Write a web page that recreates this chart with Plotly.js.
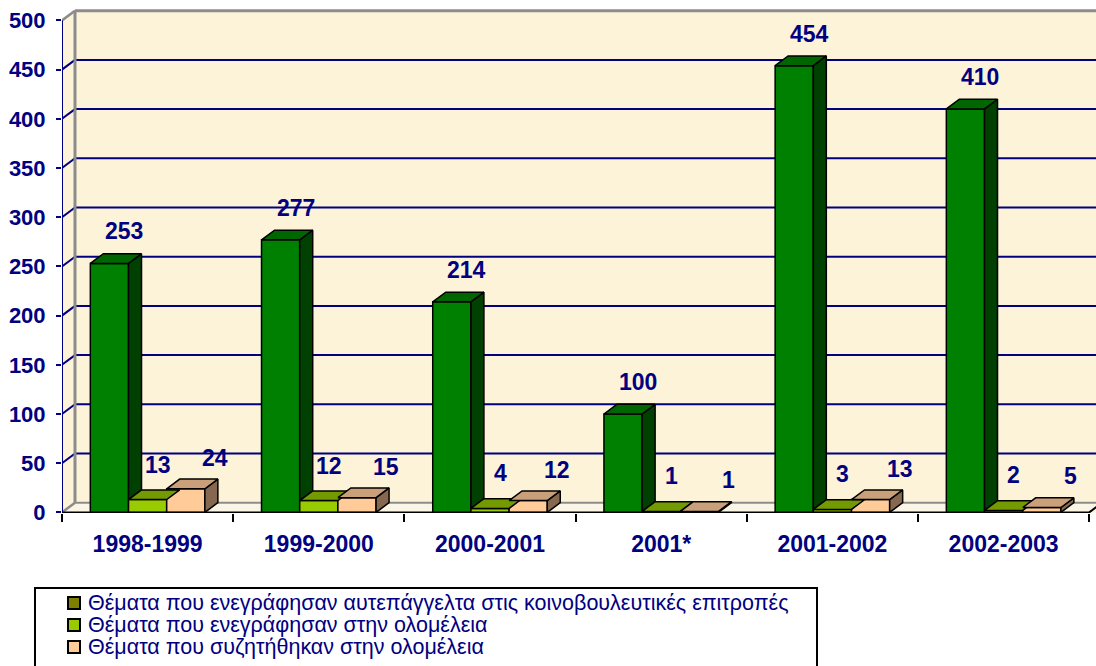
<!DOCTYPE html>
<html>
<head>
<meta charset="utf-8">
<script src="https://cdn.plot.ly/plotly-3.0.1.min.js"></script>
<style>
  html, body { margin: 0; padding: 0; background: #ffffff; }
  #chart { width: 1096px; height: 666px; }
</style>
</head>
<body>
<div id="chart"></div>
<script>
// ---- data ----
const categories = ['1998-1999', '1999-2000', '2000-2001', '2001*', '2001-2002', '2002-2003'];
const committeeTopics = [253, 277, 214, 100, 454, 410];
const plenaryRegistered = [13, 12, 4, 1, 3, 2];
const plenaryDiscussed = [24, 15, 12, 1, 13, 5];
const seriesNames = [
  'Θέματα που ενεγράφησαν αυτεπάγγελτα στις κοινοβουλευτικές επιτροπές',
  'Θέματα που ενεγράφησαν στην ολομέλεια',
  'Θέματα που συζητήθηκαν στην ολομέλεια'
];
const yTicks = [0, 50, 100, 150, 200, 250, 300, 350, 400, 450, 500];

// ---- styling / geometry ----
const NAVY = '#000080';
const FONT = 'Liberation Sans, Arial, sans-serif';
const W = 0.223;      // bar width in category units
const DX = 0.0759;    // depth offset (x, category units)
const DY = 9.86;      // depth offset (y, value units)
const X0 = -0.5, XEND = 5.5397;
const M = { l: 62, r: 0, t: 8, b: 153 };
const PW = 1096 - M.l - M.r, PH = 666 - M.t - M.b;
const px2x = p => (p - M.l) / PW;          // pixel -> paper x
const py2y = p => (666 - M.b - p) / PH;    // pixel -> paper y

const series = [
  { vals: committeeTopics,   front: '#008000', top: '#006600', side: '#004000', legend: '#808000', lx: 15, ly: 32 },
  { vals: plenaryRegistered, front: '#99CC00', top: '#739A00', side: '#4D6600', legend: '#99CC00', lx: 10, ly: 35 },
  { vals: plenaryDiscussed,  front: '#FFCC99', top: '#C9A07A', side: '#85684F', legend: '#FFCC99', lx: 29, ly: 31 }
];
const idx = categories.map((c, i) => i);

const traces = [];
const annotations = [];
const shapes = [];

series.forEach((s, k) => {
  const off = -1.5 * W + k * W;
  // front faces
  traces.push({
    type: 'bar', x: idx, y: s.vals, width: W, offset: off, name: seriesNames[k],
    marker: { color: s.front, line: { color: '#000', width: 1.5 } },
    showlegend: false, hoverinfo: 'skip'
  });
  // top & side faces
  const tx = [], ty = [], sx = [], sy = [];
  s.vals.forEach((v, i) => {
    const xl = i + off, xr = xl + W;
    tx.push(xl, xr, xr + DX, xl + DX, xl, null);
    ty.push(v, v, v + DY, v + DY, v, null);
    const vn = k < series.length - 1 ? series[k + 1].vals[i] : 0;
    if (v > vn) {
      sx.push(xr, xr, xr + DX, xr + DX, xr, null);
      sy.push(vn, v, v + DY, vn + DY, vn, null);
    }
    annotations.push({
      x: xl + W / 2, y: v, xref: 'x', yref: 'y', text: String(v), showarrow: false,
      xshift: s.lx, yshift: s.ly,
      font: { family: FONT, size: 23, color: NAVY, weight: 'bold' }
    });
  });
  traces.push({
    type: 'scatter', mode: 'lines', x: sx, y: sy, fill: 'toself', fillcolor: s.side,
    line: { color: '#000', width: 1.5 }, showlegend: false, hoverinfo: 'skip', cliponaxis: false
  });
  traces.push({
    type: 'scatter', mode: 'lines', x: tx, y: ty, fill: 'toself', fillcolor: s.top,
    line: { color: '#000', width: 1.5 }, showlegend: false, hoverinfo: 'skip', cliponaxis: false
  });

  // legend entry (drawn manually to match the original spacing)
  const rowY = 603 + k * 22;
  shapes.push({ type: 'rect', xref: 'paper', yref: 'paper', layer: 'above',
    x0: px2x(68), x1: px2x(80), y0: py2y(rowY + 6), y1: py2y(rowY - 6),
    fillcolor: s.legend, line: { color: '#000', width: 2 } });
  annotations.push({ xref: 'paper', yref: 'paper', x: px2x(86), y: py2y(rowY),
    xanchor: 'left', yanchor: 'middle', showarrow: false, text: seriesNames[k],
    font: { family: FONT, size: 21.5, color: NAVY } });
});
// legend frame
shapes.unshift({ type: 'rect', xref: 'paper', yref: 'paper', layer: 'above',
  x0: px2x(35), x1: px2x(817), y0: py2y(672), y1: py2y(588),
  fillcolor: '#ffffff', line: { color: '#000', width: 2 } });

// axis lines
traces.push({
  type: 'scatter', mode: 'lines', x: [X0, X0], y: [0, yTicks[yTicks.length - 1]],
  line: { color: NAVY, width: 2 }, showlegend: false, hoverinfo: 'skip', cliponaxis: false
});
traces.push({
  type: 'scatter', mode: 'lines', x: [X0, categories.length - 0.5, categories.length - 0.5 + DX], y: [0, 0, DY],
  line: { color: '#000', width: 2 }, showlegend: false, hoverinfo: 'skip', cliponaxis: false
});
// dummy on second x axis (category labels)
traces.push({ type: 'scatter', mode: 'markers', x: [null], y: [null], xaxis: 'x2', showlegend: false, hoverinfo: 'skip' });

// ---- walls & gridlines ----
const CREAM = '#FCF3D8';
const GRAY = '#8C8C8C';
const yTop = yTicks[yTicks.length - 1];
const wall = [];
wall.push({ type: 'path', layer: 'below', xref: 'x', yref: 'y',
  path: `M${X0},0 L${XEND + 1},0 L${XEND + 1},${DY} L${X0 + DX},${DY} Z`,
  fillcolor: '#FBF5E6', line: { width: 0 } });
wall.push({ type: 'rect', layer: 'below', xref: 'x', yref: 'y',
  x0: X0 + DX, x1: XEND + 1, y0: DY, y1: yTop + DY, fillcolor: CREAM, line: { width: 0 } });
wall.push({ type: 'path', layer: 'below', xref: 'x', yref: 'y',
  path: `M${X0},0 L${X0},${yTop} L${X0 + DX},${yTop + DY} L${X0 + DX},${DY} Z`,
  fillcolor: CREAM, line: { width: 0 } });
yTicks.forEach(v => {
  const edge = (v === 0 || v === yTop);
  const col = edge ? GRAY : NAVY;
  wall.push({ type: 'line', layer: 'below', xref: 'x', yref: 'y',
    x0: X0, y0: v, x1: X0 + DX, y1: v + DY, line: { color: col, width: edge ? 2.5 : 2 } });
  wall.push({ type: 'line', layer: 'below', xref: 'x', yref: 'y',
    x0: X0 + DX, y0: v + DY, x1: XEND + 1, y1: v + DY, line: { color: col, width: v === yTop ? 3 : 2 } });
});
wall.push({ type: 'line', layer: 'below', xref: 'x', yref: 'y',
  x0: X0 + DX, y0: DY, x1: X0 + DX, y1: yTop + DY, line: { color: GRAY, width: 3 } });

const layout = {
  width: 1096, height: 666,
  margin: { l: M.l, r: M.r, t: M.t, b: M.b, autoexpand: false },
  paper_bgcolor: '#ffffff', plot_bgcolor: '#ffffff',
  barmode: 'overlay',
  showlegend: false,
  font: { family: FONT, color: NAVY },
  xaxis: {
    range: [X0, XEND], tickvals: [-0.5, 0.5, 1.5, 2.5, 3.5, 4.5, 5.5],
    ticks: 'outside', ticklen: 8, tickwidth: 2, tickcolor: '#000',
    showticklabels: false, showgrid: false, zeroline: false, showline: false, fixedrange: true
  },
  xaxis2: {
    overlaying: 'x', anchor: 'y', side: 'bottom', range: [X0, XEND],
    tickvals: idx, ticktext: categories,
    ticks: 'outside', ticklen: 10, tickcolor: 'rgba(0,0,0,0)',
    tickfont: { family: FONT, size: 23, color: NAVY, weight: 'bold' },
    showgrid: false, zeroline: false, showline: false, fixedrange: true
  },
  yaxis: {
    range: [-0.6, 512.6], tickvals: yTicks,
    ticks: 'outside', ticklen: 5, tickwidth: 2, tickcolor: NAVY,
    tickfont: { family: FONT, size: 22, color: NAVY, weight: 'bold' },
    ticklabelstandoff: 6,
    showgrid: false, zeroline: false, showline: false, fixedrange: true
  },
  shapes: wall.concat(shapes),
  annotations: annotations
};

Plotly.newPlot('chart', traces, layout, { displayModeBar: false, staticPlot: true });
</script>
</body>
</html>
